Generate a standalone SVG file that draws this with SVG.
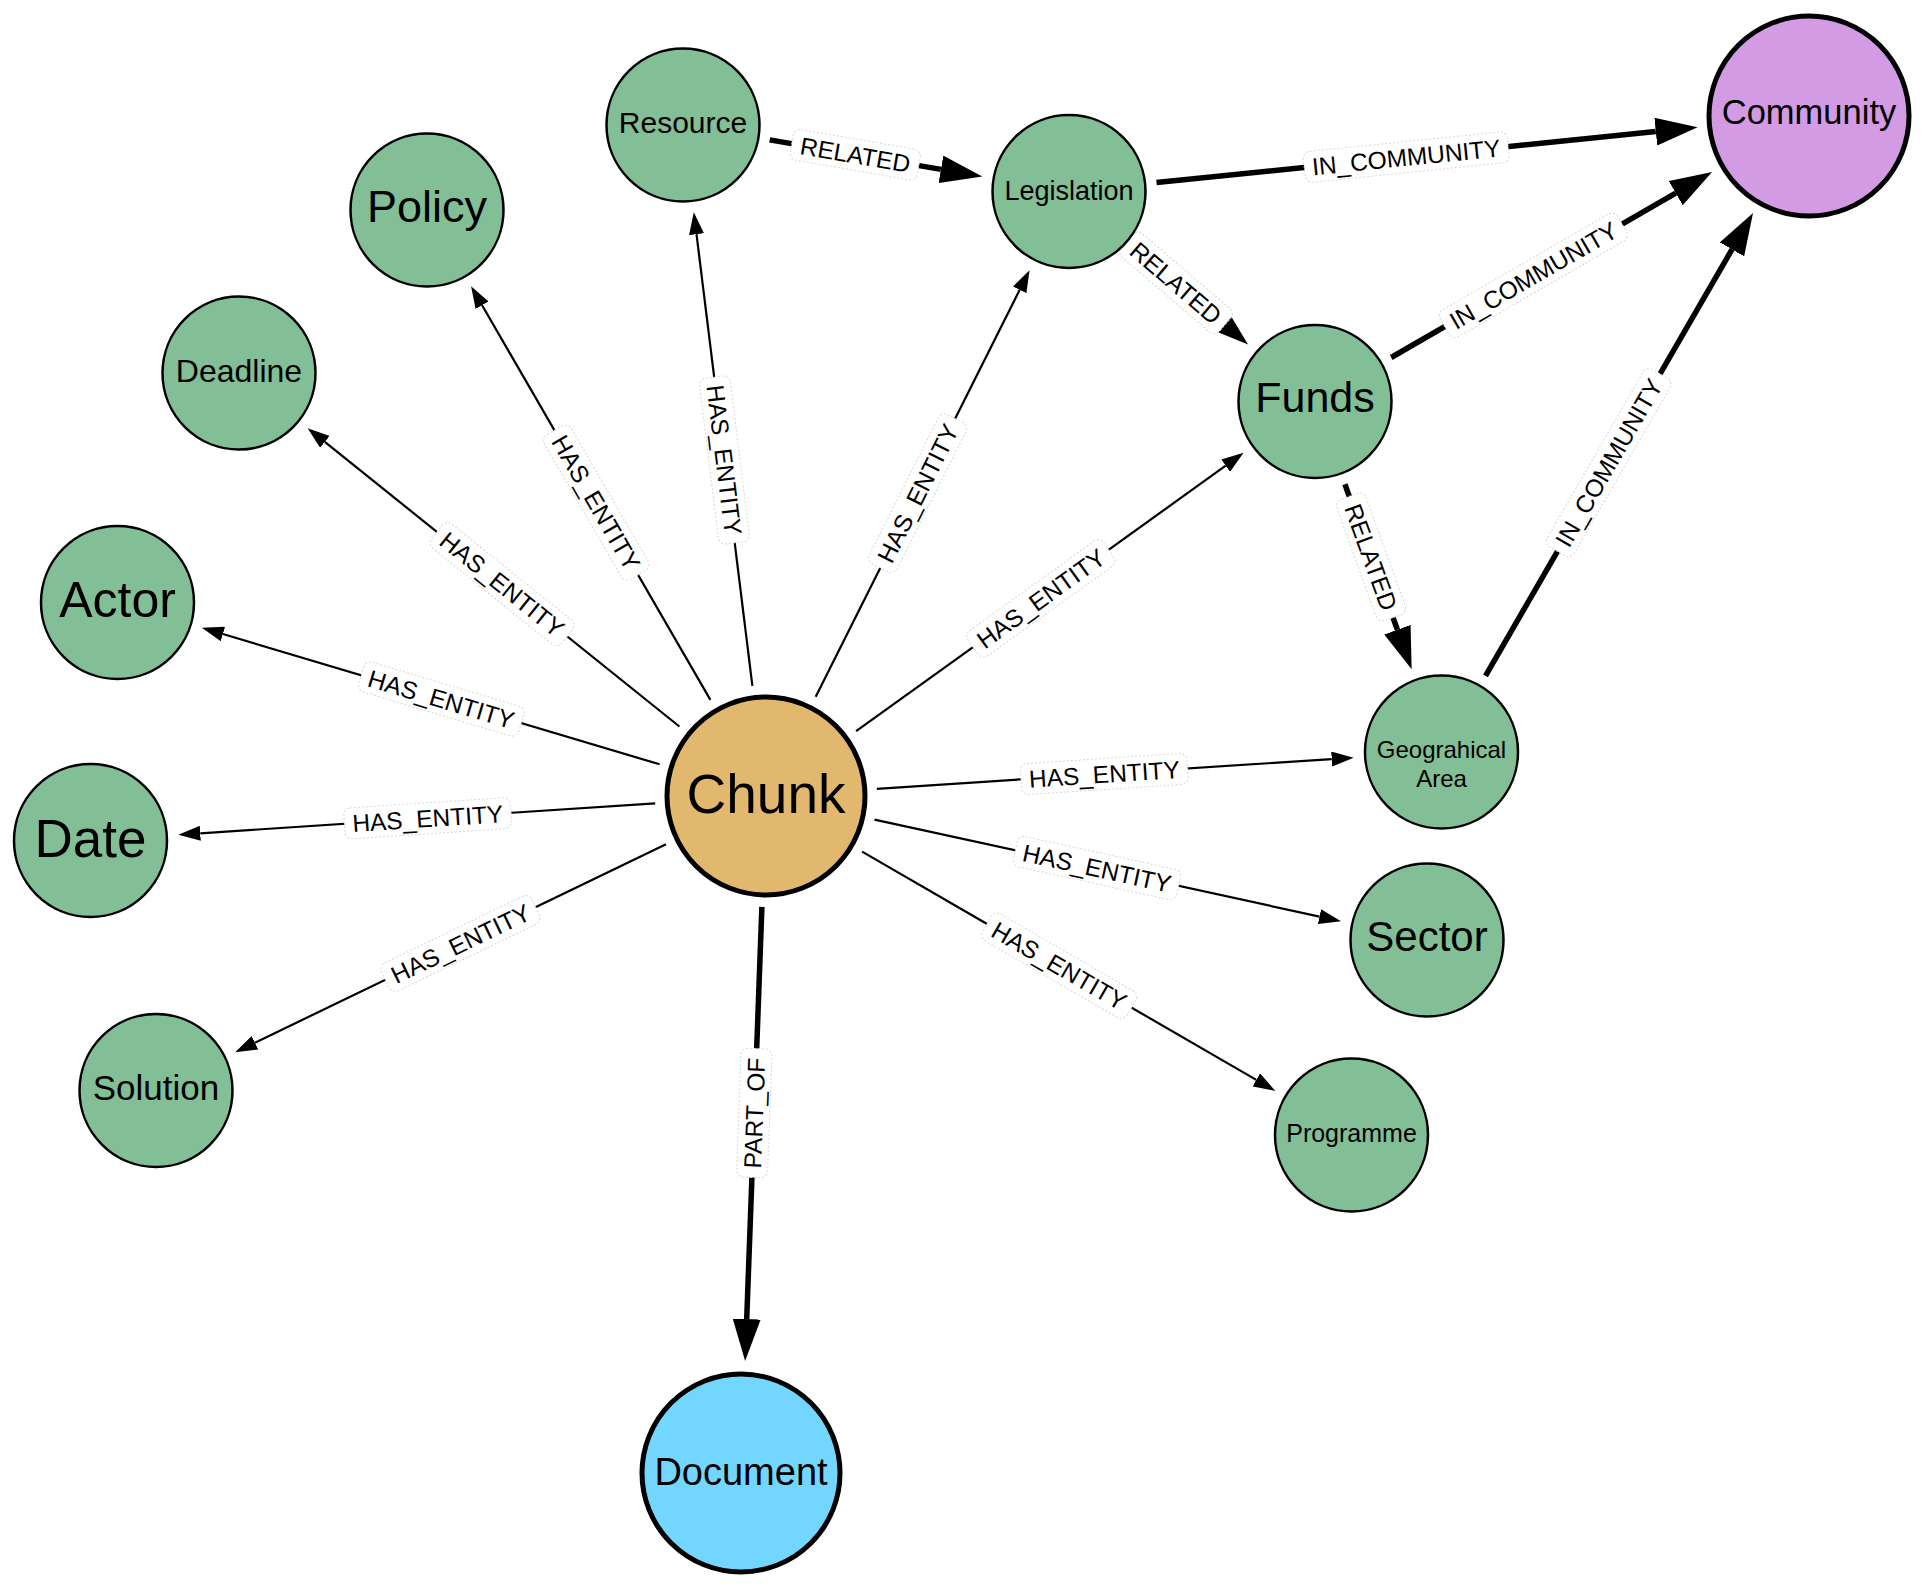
<svg xmlns="http://www.w3.org/2000/svg" width="1926" height="1592" viewBox="0 0 1926 1592">
<style>
  .bg { fill: #ffffff; }
  .thin { stroke: #000; stroke-width: 2.2; fill: none; marker-end: url(#ah); }
  .thick { stroke: #000; stroke-width: 5.5; fill: none; marker-end: url(#ahT); }
  .lbox { fill: #ffffff; stroke: #d6d6d6; stroke-width: 1; stroke-dasharray: 2 2; }
  .ltxt { font-family: "Liberation Sans", Arial, sans-serif; font-size: 24.5px; fill: #000; text-anchor: middle; }
  .ent { fill: #82BE96; stroke: #000; stroke-width: 2.5; }
  .big { stroke: #000; stroke-width: 5; }
  .ntxt { font-family: "Liberation Sans", Arial, sans-serif; fill: #000; text-anchor: middle; }
</style>
<defs>
  <marker id="ah" markerUnits="userSpaceOnUse" markerWidth="22" markerHeight="15" refX="0" refY="7.5" orient="auto">
    <path d="M0,0 L22,7.5 L0,15 Z" fill="#000"/>
  </marker>
  <marker id="ahT" markerUnits="userSpaceOnUse" markerWidth="42" markerHeight="28" refX="0" refY="14" orient="auto">
    <path d="M0,0 L42,14 L0,28 Z" fill="#000"/>
  </marker>
</defs>
<rect class="bg" x="0" y="0" width="1926" height="1592"/>

<g id="connectors">
  <!-- Chunk HAS_ENTITY edges -->
  <line class="thin" x1="710.4" y1="699.9" x2="482.1" y2="305.2"/>
  <line class="thin" x1="679.4" y1="726.5" x2="324.8" y2="441.9"/>
  <line class="thin" x1="659.6" y1="764.3" x2="222.9" y2="634.0"/>
  <line class="thin" x1="655.2" y1="803.3" x2="200.3" y2="833.3"/>
  <line class="thin" x1="666.0" y1="844.3" x2="255.0" y2="1042.7"/>
  <line class="thin" x1="752.4" y1="685.8" x2="696.5" y2="234.2"/>
  <line class="thin" x1="815.7" y1="696.8" x2="1019.7" y2="289.8"/>
  <line class="thin" x1="856.1" y1="731.2" x2="1225.7" y2="465.7"/>
  <line class="thin" x1="876.8" y1="788.8" x2="1331.7" y2="759.1"/>
  <line class="thin" x1="874.5" y1="819.6" x2="1319.5" y2="916.6"/>
  <line class="thin" x1="862.1" y1="851.6" x2="1256.3" y2="1079.9"/>
  <!-- thick edges -->
  <line class="thick" x1="761.9" y1="906.9" x2="746.7" y2="1319.1"/>
  <line class="thick" x1="769.7" y1="139.9" x2="940.9" y2="169.4"/>
  <line class="thick" x1="1156.5" y1="182.6" x2="1655.8" y2="131.6"/>
  <line class="thick" x1="1135.9" y1="248.6" x2="1216.1" y2="317.1"/>
  <line class="thick" x1="1391.2" y1="357.5" x2="1675.7" y2="193.1"/>
  <line class="thick" x1="1344.9" y1="484.3" x2="1397.4" y2="629.7"/>
  <line class="thick" x1="1485.5" y1="675.8" x2="1732.0" y2="249.4"/>

  <!-- labels -->
  <g transform="translate(596.3,502.6) rotate(59.95)"><rect class="lbox" x="-83.5" y="-15.5" width="167" height="31" rx="7"/><text class="ltxt" y="8.8">HAS_ENTITY</text></g>
  <g transform="translate(502.1,584.2) rotate(38.76)"><rect class="lbox" x="-83.5" y="-15.5" width="167" height="31" rx="7"/><text class="ltxt" y="8.8">HAS_ENTITY</text></g>
  <g transform="translate(441.3,699.1) rotate(16.61)"><rect class="lbox" x="-83.5" y="-15.5" width="167" height="31" rx="7"/><text class="ltxt" y="8.8">HAS_ENTITY</text></g>
  <g transform="translate(427.7,818.3) rotate(-3.77)"><rect class="lbox" x="-83.5" y="-15.5" width="167" height="31" rx="7"/><text class="ltxt" y="8.8">HAS_ENTITY</text></g>
  <g transform="translate(460.5,943.5) rotate(-25.77)"><rect class="lbox" x="-83.5" y="-15.5" width="167" height="31" rx="7"/><text class="ltxt" y="8.8">HAS_ENTITY</text></g>
  <g transform="translate(724.4,460.0) rotate(82.95)"><rect class="lbox" x="-83.5" y="-15.5" width="167" height="31" rx="7"/><text class="ltxt" y="8.8">HAS_ENTITY</text></g>
  <g transform="translate(917.7,493.3) rotate(-63.38)"><rect class="lbox" x="-83.5" y="-15.5" width="167" height="31" rx="7"/><text class="ltxt" y="8.8">HAS_ENTITY</text></g>
  <g transform="translate(1040.9,598.5) rotate(-35.70)"><rect class="lbox" x="-83.5" y="-15.5" width="167" height="31" rx="7"/><text class="ltxt" y="8.8">HAS_ENTITY</text></g>
  <g transform="translate(1104.3,774.0) rotate(-3.73)"><rect class="lbox" x="-83.5" y="-15.5" width="167" height="31" rx="7"/><text class="ltxt" y="8.8">HAS_ENTITY</text></g>
  <g transform="translate(1097.0,868.1) rotate(12.29)"><rect class="lbox" x="-83.5" y="-15.5" width="167" height="31" rx="7"/><text class="ltxt" y="8.8">HAS_ENTITY</text></g>
  <g transform="translate(1059.2,965.8) rotate(30.07)"><rect class="lbox" x="-83.5" y="-15.5" width="167" height="31" rx="7"/><text class="ltxt" y="8.8">HAS_ENTITY</text></g>
  <g transform="translate(754.3,1113.0) rotate(-87.89)"><rect class="lbox" x="-64.5" y="-15.5" width="129" height="31" rx="7"/><text class="ltxt" y="8.8">PART_OF</text></g>
  <g transform="translate(855.3,154.7) rotate(9.78)"><rect class="lbox" x="-64.5" y="-15.5" width="129" height="31" rx="7"/><text class="ltxt" y="8.8">RELATED</text></g>
  <g transform="translate(1406.2,157.1) rotate(-5.83)"><rect class="lbox" x="-102.5" y="-15.5" width="205" height="31" rx="7"/><text class="ltxt" y="8.8">IN_COMMUNITY</text></g>
  <g transform="translate(1176.0,282.9) rotate(40.49)"><rect class="lbox" x="-64.5" y="-15.5" width="129" height="31" rx="7"/><text class="ltxt" y="8.8">RELATED</text></g>
  <g transform="translate(1533.4,275.3) rotate(-30.03)"><rect class="lbox" x="-102.5" y="-15.5" width="205" height="31" rx="7"/><text class="ltxt" y="8.8">IN_COMMUNITY</text></g>
  <g transform="translate(1371.1,557.0) rotate(70.15)"><rect class="lbox" x="-64.5" y="-15.5" width="129" height="31" rx="7"/><text class="ltxt" y="8.8">RELATED</text></g>
  <g transform="translate(1608.7,462.6) rotate(-59.98)"><rect class="lbox" x="-102.5" y="-15.5" width="205" height="31" rx="7"/><text class="ltxt" y="8.8">IN_COMMUNITY</text></g>
</g>

<g id="node-chunk"><circle class="big" cx="766" cy="796" r="99" fill="#E2B86F"/><text class="ntxt" x="766" y="813" font-size="55">Chunk</text></g>
<g id="node-document"><circle class="big" cx="741" cy="1473" r="99" fill="#72D6FF"/><text class="ntxt" x="741" y="1485" font-size="38">Document</text></g>
<g id="node-community"><circle class="big" cx="1809" cy="116" r="100" fill="#D29BE4"/><text class="ntxt" x="1809" y="124" font-size="34.5">Community</text></g>
<g id="node-resource"><circle class="ent" cx="683" cy="125" r="76.5"/><text class="ntxt" x="683" y="133" font-size="30">Resource</text></g>
<g id="node-legislation"><circle class="ent" cx="1069" cy="191.5" r="76.5"/><text class="ntxt" x="1069" y="200" font-size="27">Legislation</text></g>
<g id="node-funds"><circle class="ent" cx="1315" cy="401.5" r="76.5"/><text class="ntxt" x="1315" y="412" font-size="43">Funds</text></g>
<g id="node-geo"><circle class="ent" cx="1441.5" cy="752" r="76.5"/><text class="ntxt" x="1441.5" y="758" font-size="24">Geograhical</text><text class="ntxt" x="1441.5" y="787" font-size="24">Area</text></g>
<g id="node-policy"><circle class="ent" cx="427" cy="210" r="76.5"/><text class="ntxt" x="427" y="222" font-size="45">Policy</text></g>
<g id="node-deadline"><circle class="ent" cx="239" cy="373" r="76.5"/><text class="ntxt" x="239" y="382" font-size="32">Deadline</text></g>
<g id="node-actor"><circle class="ent" cx="117.5" cy="602.5" r="76.5"/><text class="ntxt" x="117.5" y="617" font-size="50">Actor</text></g>
<g id="node-date"><circle class="ent" cx="90.5" cy="840.5" r="76.5"/><text class="ntxt" x="90.5" y="857" font-size="53">Date</text></g>
<g id="node-solution"><circle class="ent" cx="156" cy="1090.5" r="76.5"/><text class="ntxt" x="156" y="1100" font-size="35">Solution</text></g>
<g id="node-sector"><circle class="ent" cx="1427" cy="940" r="76.5"/><text class="ntxt" x="1427" y="951" font-size="42">Sector</text></g>
<g id="node-programme"><circle class="ent" cx="1351.5" cy="1135" r="76.5"/><text class="ntxt" x="1351.5" y="1142" font-size="25">Programme</text></g>
</svg>
